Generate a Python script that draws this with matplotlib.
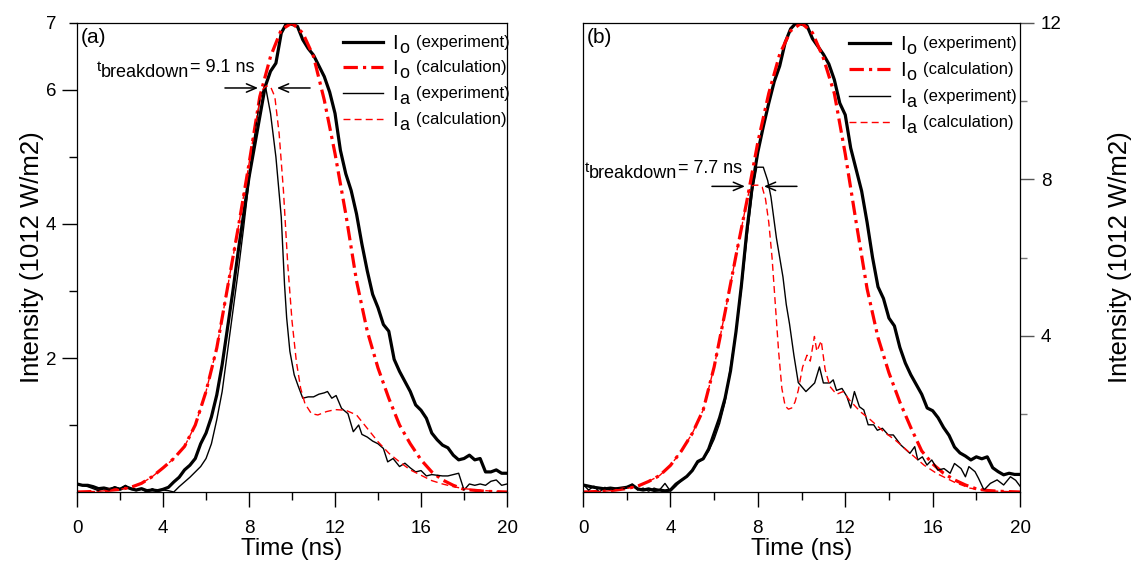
import numpy as np
import matplotlib
matplotlib.use('Agg')
import matplotlib.pyplot as plt
import matplotlib.transforms as mtransforms
from matplotlib import font_manager
from matplotlib.ticker import FixedLocator, FixedFormatter

plt.rcParams['font.family'] = 'Liberation Sans'

# ---------------- panel (a) data ----------------
t_io_exp_a = np.arange(0, 20.01, 0.25)
io_exp_a = [0.12, 0.10, 0.10, 0.08, 0.05, 0.06, 0.04, 0.06, 0.04, 0.08,
            0.05, 0.03, 0.05, 0.02, 0.03, 0.02, 0.04, 0.07, 0.15, 0.22,
            0.33, 0.40, 0.50, 0.72, 0.88, 1.12, 1.45, 1.90, 2.45, 3.00,
            3.60, 4.15, 4.70, 5.15, 5.60, 6.05, 6.28, 6.40, 6.85, 7.00,
            6.98, 6.95, 6.75, 6.62, 6.52, 6.36, 6.20, 5.97, 5.65, 5.10,
            4.75, 4.50, 4.15, 3.70, 3.30, 2.95, 2.75, 2.50, 2.40, 1.98,
            1.80, 1.65, 1.50, 1.30, 1.22, 1.10, 0.88, 0.78, 0.70, 0.66,
            0.55, 0.48, 0.50, 0.55, 0.48, 0.50, 0.30, 0.30, 0.33, 0.28,
            0.28]

t_io_calc_a = [0, 1, 2, 2.5, 3, 3.5, 4, 4.5, 5, 5.5, 6, 6.5, 7, 7.5, 8, 8.5, 9, 9.5,
               10, 10.5, 11, 11.5, 12, 12.5, 13, 13.5, 14, 14.5, 15, 15.5, 16, 16.5,
               17, 17.5, 18, 19, 20]
io_calc_a = [0, 0.01, 0.04, 0.07, 0.13, 0.23, 0.36, 0.5, 0.68, 1.0, 1.5, 2.15, 3.05,
             3.95, 4.9, 5.9, 6.5, 6.9, 7.0, 6.85, 6.5, 5.85, 5.05, 4.15, 3.15, 2.4,
             1.85, 1.4, 1.0, 0.72, 0.48, 0.3, 0.18, 0.1, 0.04, 0.01, 0]

t_ia_exp_a = [0, 0.25, 0.5, 0.75, 1.0, 1.25, 1.5, 1.75, 2.0, 2.25, 2.5, 2.75, 3.0, 3.25,
              3.5, 3.75, 4.0, 4.25, 4.5, 4.75, 5.0, 5.25, 5.5, 5.75, 6.0, 6.25, 6.5,
              6.75, 7.0, 7.25, 7.5, 7.75, 8.0, 8.25, 8.5, 8.75, 9.0, 9.25, 9.5,
              9.65, 9.75, 9.9, 10.1, 10.3, 10.5, 10.75, 11.0, 11.25, 11.5, 11.65, 11.85,
              12.05, 12.3, 12.6, 12.85, 13.1, 13.25, 13.5, 13.75, 14.0, 14.25, 14.45, 14.7,
              15.0, 15.25, 15.5, 15.75, 16.0, 16.25, 16.5, 16.75, 17.0, 17.25, 17.5,
              17.75, 18.0, 18.25, 18.5, 18.75, 19.0, 19.25, 19.5, 19.75, 20.0]
ia_exp_a = [0.10, 0.10, 0.08, 0.05, 0.02, 0.05, 0.03, 0.08, 0.05, 0.10,
            0.04, 0.02, 0.04, 0.00, 0.05, 0.01, 0.03, 0.02, 0.00, 0.08,
            0.15, 0.22, 0.30, 0.38, 0.50, 0.72, 1.08, 1.50, 2.10, 2.70,
            3.30, 3.95, 4.65, 5.30, 5.85, 6.08, 5.65, 5.00, 4.10,
            3.10, 2.60, 2.10, 1.75, 1.57, 1.40, 1.42, 1.42, 1.46, 1.48, 1.50, 1.40,
            1.44, 1.25, 1.17, 0.90, 1.00, 0.86, 0.82, 0.76, 0.72, 0.65, 0.45, 0.50,
            0.38, 0.43, 0.36, 0.30, 0.32, 0.24, 0.26, 0.25, 0.24, 0.24, 0.26,
            0.28, 0.03, 0.12, 0.10, 0.12, 0.10, 0.16, 0.18, 0.10, 0.12]

t_ia_calc_a = [0, 1, 2, 2.5, 3, 3.5, 4, 4.5, 5, 5.5, 6, 6.5, 7, 7.5, 8,
               8.3, 8.6, 8.8, 9.0, 9.2, 9.4, 9.6, 9.8, 10.0, 10.2,
               10.4, 10.6, 10.9, 11.2, 11.6, 12.0, 12.5, 13.0, 13.5, 14.0,
               14.5, 15.0, 15.5, 16.0, 16.5, 17.0, 17.5, 18.0, 19.0, 20.0]
ia_calc_a = [0, 0.01, 0.04, 0.07, 0.13, 0.23, 0.36, 0.5, 0.68, 1.0, 1.5, 2.15, 3.05, 3.95, 4.9,
             5.5, 6.0, 6.06, 6.05, 5.9, 5.35, 4.5, 3.4, 2.55, 1.95,
             1.55, 1.32, 1.17, 1.15, 1.2, 1.23, 1.22, 1.15, 0.95, 0.75,
             0.58, 0.45, 0.33, 0.25, 0.17, 0.12, 0.08, 0.05, 0.02, 0.0]

# ---------------- panel (b) data ----------------
t_io_exp_b = np.arange(0, 20.01, 0.25)
io_exp_b = [0.18, 0.15, 0.12, 0.10, 0.08, 0.10, 0.08, 0.10, 0.12, 0.18,
            0.08, 0.05, 0.08, 0.04, 0.05, 0.03, 0.05, 0.20, 0.30, 0.40,
            0.55, 0.78, 0.85, 1.10, 1.50, 1.90, 2.40, 3.10, 4.10, 5.30,
            6.70, 7.85, 8.70, 9.35, 9.95, 10.50, 10.90, 11.50, 11.85, 12.00,
            11.97, 11.93, 11.60, 11.40, 11.20, 10.95, 10.55, 9.95, 9.65, 8.80,
            8.25, 7.70, 6.90, 6.00, 5.25, 4.95, 4.45, 4.25, 3.70, 3.30,
            3.00, 2.75, 2.50, 2.15, 2.08, 1.90, 1.65, 1.45, 1.15, 1.00,
            0.92, 0.82, 0.90, 0.85, 0.90, 0.62, 0.52, 0.44, 0.48, 0.45,
            0.45]

t_io_calc_b = [0, 1, 1.5, 2, 2.5, 3, 3.5, 4, 4.5, 5, 5.5, 6, 6.5, 7, 7.5, 8, 8.5, 9, 9.5,
               10, 10.5, 11, 11.5, 12, 12.5, 13, 13.5, 14, 14.5, 15, 15.5, 16, 16.5,
               17, 17.5, 18, 18.5, 19, 20]
io_calc_b = [0, 0.02, 0.05, 0.09, 0.15, 0.27, 0.42, 0.68, 1.05, 1.5, 2.1, 3.2, 4.6, 6.05,
             7.45, 8.95, 10.2, 11.2, 11.8, 12.0, 11.75, 11.1, 10.2, 8.65, 6.9, 5.2, 3.95,
             3.05, 2.3, 1.65, 1.05, 0.72, 0.48, 0.31, 0.18, 0.08, 0.04, 0.02, 0.0]

t_ia_exp_b = [0, 0.25, 0.5, 0.75, 1.0, 1.25, 1.5, 1.75, 2.0, 2.25, 2.5, 2.75, 3.0, 3.25,
              3.5, 3.75, 4.0, 4.25, 4.5, 4.75, 5.0, 5.25, 5.5, 5.75, 6.0, 6.25, 6.5,
              6.75, 7.0, 7.25, 7.5, 7.75,
              7.95, 8.25, 8.45, 8.6, 8.85, 9.15, 9.3, 9.45, 9.65, 9.85,
              10.2, 10.6, 10.82, 11.0, 11.3, 11.45, 11.6, 11.85, 12.07, 12.25,
              12.42, 12.65, 12.85, 13.05, 13.3, 13.47, 13.7, 13.97, 14.2, 14.55,
              14.96, 15.18, 15.32, 15.53, 15.74, 15.96, 16.24, 16.52, 16.8, 17.0,
              17.3, 17.5, 17.66, 17.94, 18.1, 18.35, 18.64, 18.95, 19.25, 19.56,
              19.8, 20.0]
ia_exp_b = [0.20, 0.05, 0.15, 0.00, 0.12, 0.05, 0.10, 0.08, 0.10, 0.20, 0.05, 0.10, 0.02,
            0.10, 0.05, 0.22, 0.02, 0.15, 0.30, 0.40, 0.55, 0.75, 0.85, 1.05, 1.35, 1.75,
            2.30, 3.20, 4.10, 5.20, 6.50, 7.70,
            8.31, 8.31, 7.97, 7.55, 6.50, 5.50, 4.80, 4.30, 3.50, 2.80,
            2.57, 2.79, 3.20, 2.79, 2.79, 2.87, 2.60, 2.65, 2.45, 2.15,
            2.57, 2.18, 2.10, 1.72, 1.72, 1.58, 1.63, 1.46, 1.46, 1.20,
            0.99, 1.16, 0.82, 0.90, 0.69, 0.82, 0.56, 0.60, 0.48, 0.73,
            0.60, 0.39, 0.65, 0.52, 0.35, 0.05, 0.22, 0.31, 0.18, 0.39,
            0.30, 0.15]

t_ia_calc_b = [0, 1, 1.5, 2, 2.5, 3, 3.5, 4, 4.5, 5, 5.5, 6, 6.5, 7, 7.5, 7.65, 7.85, 8.05,
               8.2, 8.35, 8.5, 8.65, 8.8, 8.95, 9.1, 9.25, 9.4, 9.55, 9.7, 9.85, 10.05,
               10.25, 10.4, 10.59, 10.7, 10.9, 11.08, 11.3, 11.6, 11.9, 12.2, 12.7, 13.15,
               13.75, 14.35, 15.0, 15.6, 16.2, 17.0, 17.7, 18.5, 20.0]
ia_calc_b = [0, 0.02, 0.05, 0.09, 0.15, 0.27, 0.42, 0.68, 1.05, 1.5, 2.1, 3.2, 4.6, 6.05,
             7.45, 7.82, 7.85, 7.85, 7.8, 7.5, 6.9, 6.0, 4.8, 3.6, 2.65, 2.2, 2.12, 2.15,
             2.3, 2.6, 3.2, 3.5, 3.35, 3.98, 3.6, 3.87, 3.13, 2.7, 2.5, 2.57, 2.35, 2.05,
             1.85, 1.55, 1.3, 0.98, 0.69, 0.47, 0.25, 0.1, 0.03, 0.0]

# breakdown annotations: label, arrow level and arrow ends (ns)
breakdown_a = dict(label='= 9.1 ns', text_xy=(0.93, 6.27), y=6.03,
                   left=(6.88, 8.42), right=(10.84, 9.3))
breakdown_b = dict(label='= 7.7 ns', text_xy=(0.09, 8.15), y=7.82,
                   left=(5.9, 7.41), right=(9.79, 8.28))

names = {f.name for f in font_manager.fontManager.ttflist}
narrow = 'Liberation Sans Narrow' if 'Liberation Sans Narrow' in names else 'Liberation Sans'

fig = plt.figure(figsize=(11.33, 5.69), dpi=100)
ax1 = fig.add_axes([0.068, 0.1353, 0.3795, 0.8243])
ax2 = fig.add_axes([0.5146, 0.1353, 0.3857, 0.8243])
renderer = fig.canvas.get_renderer()

io_exp_style = dict(color='black', lw=2.3)
io_calc_style = dict(color='red', lw=2.3, linestyle=(0, (4.5, 1.6, 1, 1.6)))
ia_exp_style = dict(color='black', lw=1.0)
ia_calc_style = dict(color='red', lw=1.0, linestyle=(0, (5, 3)))


def pieces(ax, x, y, parts, transform):
    # write a run of texts side by side, each with its own size and vertical shift (pixels)
    dx = 0
    for s, size, dy, gap, fam in parts:
        tr = mtransforms.offset_copy(transform, fig=fig, x=dx, y=dy, units='dots')
        t = ax.text(x, y, s, fontsize=size, transform=tr, ha='left', va='baseline',
                    family=fam)
        dx += t.get_window_extent(renderer).width + gap


def legend(ax, x0, x1, xt, rows_y):
    entries = [(io_exp_style, 'o', '(experiment)'),
               (io_calc_style, 'o', '(calculation)'),
               (ia_exp_style, 'a', '(experiment)'),
               (ia_calc_style, 'a', '(calculation)')]
    for (style, sub, desc), yy in zip(entries, rows_y):
        ax.plot([x0, x1], [yy, yy], transform=ax.transAxes, clip_on=False, **style)
        pieces(ax, xt, yy, [('I', 14.5, -7, 1, 'Liberation Sans'),
                            (sub, 13, -11, 7, 'Liberation Sans'),
                            (desc, 12, -5, 0, narrow)], ax.transAxes)


def breakdown(ax, info):
    x, y = info['text_xy']
    pieces(ax, x, y, [('t', 11, 1, 0, 'Liberation Sans'),
                      ('breakdown', 13, -5, 0, 'Liberation Sans'),
                      (info['label'], 13, 0, 0, 'Liberation Sans')], ax.transData)
    arrow = dict(arrowstyle='->,head_length=0.7,head_width=0.3', color='black', lw=1.1,
                 shrinkA=0, shrinkB=0)
    yy = info['y']
    ax.annotate('', xy=(info['left'][1], yy), xytext=(info['left'][0], yy), arrowprops=arrow)
    ax.annotate('', xy=(info['right'][1], yy), xytext=(info['right'][0], yy), arrowprops=arrow)


for ax in (ax1, ax2):
    ax.set_xlim(0, 20)
    ax.xaxis.set_major_locator(FixedLocator([0, 4, 8, 12, 16, 20]))
    ax.xaxis.set_minor_locator(FixedLocator([2, 6, 10, 14, 18]))
    ax.tick_params(axis='x', which='major', direction='out', length=11, width=1,
                   labelsize=13.5, pad=9)
    ax.tick_params(axis='x', which='minor', direction='out', length=5.5, width=1)
    ax.set_xlabel('Time (ns)', fontsize=17.5, labelpad=1)
    for sp in ax.spines.values():
        sp.set_linewidth(0.9)

# panel (a)
ax1.plot(t_io_exp_a, io_exp_a, **io_exp_style)
ax1.plot(t_io_calc_a, io_calc_a, **io_calc_style)
ax1.plot(t_ia_exp_a, ia_exp_a, **ia_exp_style)
ax1.plot(t_ia_calc_a, ia_calc_a, **ia_calc_style)
ax1.set_ylim(0, 7)
ax1.yaxis.set_major_locator(FixedLocator([2, 4, 6]))
ax1.yaxis.set_minor_locator(FixedLocator([1, 3, 5, 7]))
ax1.yaxis.set_minor_formatter(FixedFormatter(['', '', '', '7']))
ax1.tick_params(axis='y', which='major', direction='out', length=11, width=1,
                labelsize=13.5, pad=4)
ax1.tick_params(axis='y', which='minor', direction='out', length=5.5, width=1,
                labelsize=13.5, pad=9.5)
ax1.set_ylabel('Intensity (1012 W/m2)', fontsize=18.5, labelpad=1)
ax1.text(0.008, 0.968, '(a)', transform=ax1.transAxes, fontsize=15, va='center')
legend(ax1, 0.619, 0.712, 0.733, [0.9595, 0.906, 0.851, 0.795])
breakdown(ax1, breakdown_a)

# panel (b)
ax2.plot(t_io_exp_b, io_exp_b, **io_exp_style)
ax2.plot(t_io_calc_b, io_calc_b, **io_calc_style)
ax2.plot(t_ia_exp_b, ia_exp_b, **ia_exp_style)
ax2.plot(t_ia_calc_b, ia_calc_b, **ia_calc_style)
ax2.set_ylim(0, 12)
ax2.yaxis.tick_right()
ax2.yaxis.set_label_position('right')
ax2.yaxis.set_major_locator(FixedLocator([4, 8, 12]))
ax2.yaxis.set_minor_locator(FixedLocator([2, 6, 10]))
ax2.tick_params(axis='y', which='major', direction='out', length=10, width=1,
                labelsize=13.5, pad=5, color='#555555')
ax2.tick_params(axis='y', which='minor', direction='out', length=5, width=1,
                color='#777777')
ax2.set_ylabel('Intensity (1012 W/m2)', fontsize=18.5, labelpad=33)
ax2.text(0.008, 0.968, '(b)', transform=ax2.transAxes, fontsize=15, va='center')
legend(ax2, 0.609, 0.703, 0.725, [0.957, 0.902, 0.844, 0.789])
breakdown(ax2, breakdown_b)

fig.savefig('out.png', dpi=100)
